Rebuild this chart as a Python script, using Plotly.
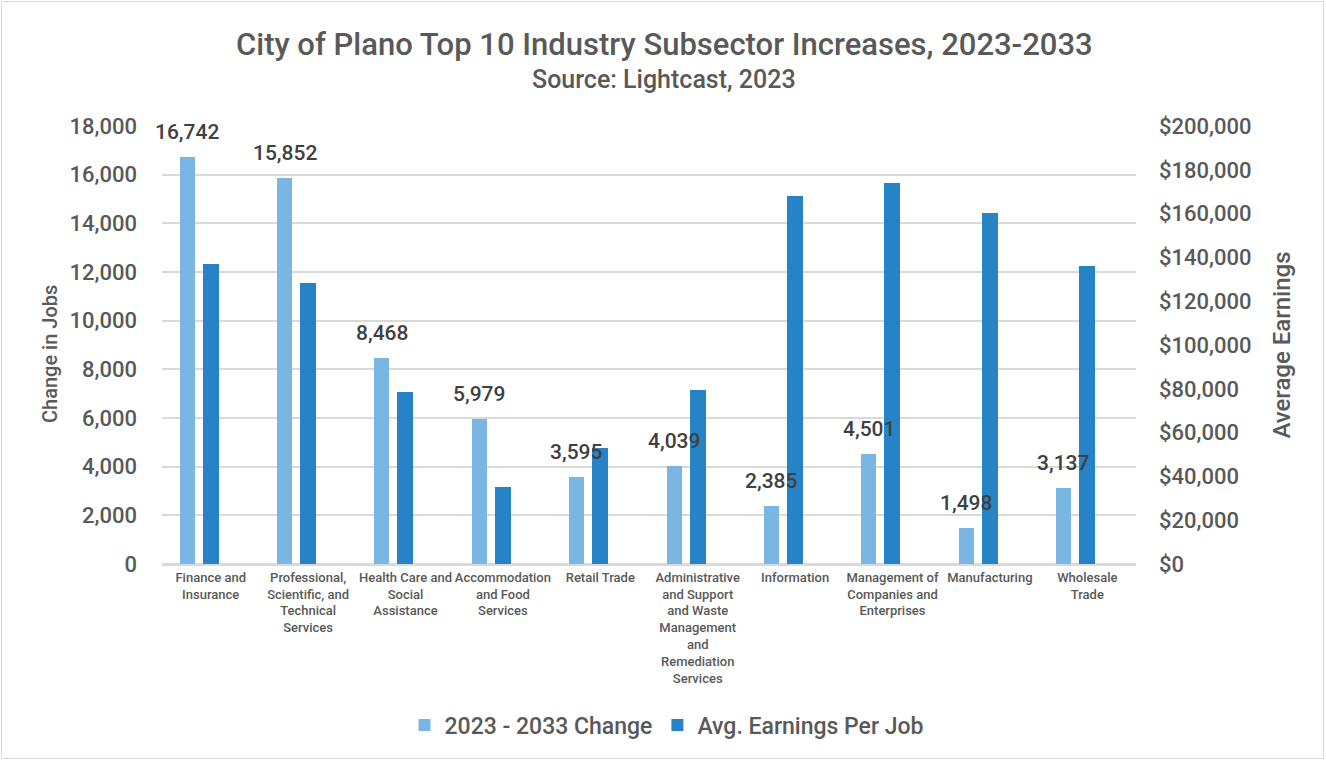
import plotly.graph_objects as go

# Industry subsectors (x categories) and their wrapped tick labels
categories = [
    "Finance and Insurance",
    "Professional, Scientific, and Technical Services",
    "Health Care and Social Assistance",
    "Accommodation and Food Services",
    "Retail Trade",
    "Administrative and Support and Waste Management and Remediation Services",
    "Information",
    "Management of Companies and Enterprises",
    "Manufacturing",
    "Wholesale Trade",
]
tick_labels = [
    "Finance and<br>Insurance",
    "Professional,<br>Scientific, and<br>Technical<br>Services",
    "Health Care and<br>Social<br>Assistance",
    "Accommodation<br>and Food<br>Services",
    "Retail Trade",
    "Administrative<br>and Support<br>and Waste<br>Management<br>and<br>Remediation<br>Services",
    "Information",
    "Management of<br>Companies and<br>Enterprises",
    "Manufacturing",
    "Wholesale<br>Trade",
]

# 2023 - 2033 change in jobs
job_change = [16742, 15852, 8468, 5979, 3595, 4039, 2385, 4501, 1498, 3137]
# Average earnings per job (USD)
avg_earnings = [137100, 128200, 78500, 35000, 53100, 79400, 167900, 173800, 160100, 135900]

LIGHT = "#7AB6E4"
DARK = "#2683C6"
TEXT = "#595959"
LABEL = "#404040"
GRID = "#D9D9D9"
FONT = "Roboto"
WT = 500

W, H = 1326, 761
ML, MR, MT, MB = 162, 190, 126, 197
PW, PH = W - ML - MR, H - MT - MB

fig = go.Figure()

# Earnings on the primary (right-side) axis
fig.add_trace(go.Bar(
    name="Avg. Earnings Per Job",
    x=categories, y=avg_earnings,
    width=0.165, offset=-0.083,
    marker=dict(color=DARK, line=dict(width=0)),
    yaxis="y",
))
# Job change on the left axis, overlaid
fig.add_trace(go.Bar(
    name="2023 - 2033 Change",
    x=categories, y=job_change,
    width=0.155, offset=-0.32,
    marker=dict(color=LIGHT, line=dict(width=0)),
    yaxis="y2",
))

# Value labels above the job-change bars
annotations = []
for cat, val in zip(categories, job_change):
    annotations.append(dict(
        x=cat, y=val, xref="x", yref="y2",
        text=f"{val:,}", showarrow=False,
        xanchor="center", yanchor="bottom",
        xshift=-23.5, yshift=11,
        font=dict(family=FONT, size=21, color=LABEL, weight=WT),
    ))

def py(px):
    return (MT + PH - px) / PH

def pxx(px):
    return (px - ML) / PW

annotations.append(dict(
    x=pxx(664), y=py(45), xref="paper", yref="paper",
    text="City of Plano Top 10 Industry Subsector Increases, 2023-2033",
    showarrow=False, xanchor="center", yanchor="middle",
    font=dict(family=FONT, size=31, color=TEXT, weight=WT),
))
annotations.append(dict(
    x=pxx(664), y=py(79), xref="paper", yref="paper",
    text="Source: Lightcast, 2023",
    showarrow=False, xanchor="center", yanchor="middle",
    font=dict(family=FONT, size=25, color=TEXT, weight=WT),
))
# Left axis title
annotations.append(dict(
    x=pxx(50), y=py(354), xref="paper", yref="paper",
    text="Change in Jobs", textangle=-90,
    showarrow=False, xanchor="center", yanchor="middle",
    font=dict(family=FONT, size=20, color=TEXT, weight=WT),
))

fig.update_layout(
    width=W, height=H,
    margin=dict(l=ML, r=MR, t=MT, b=MB, autoexpand=False),
    paper_bgcolor="white", plot_bgcolor="white",
    font=dict(family=FONT, color=TEXT),
    showlegend=True,
    legend=dict(
        orientation="h", x=pxx(667), y=py(725),
        xanchor="center", yanchor="middle",
        font=dict(family=FONT, size=23, color=TEXT, weight=WT),
        traceorder="reversed", itemwidth=30,
    ),
    bargap=0, barmode="overlay",
    xaxis=dict(
        type="category", range=[-0.5, 9.5],
        tickmode="array", tickvals=categories, ticktext=tick_labels,
        tickfont=dict(family=FONT, size=13, color=TEXT, weight=WT),
        tickangle=0, ticks="", showgrid=False,
        showline=True, linecolor=GRID, linewidth=2,
        automargin=False,
    ),
    yaxis=dict(
        side="right", range=[0, 200000], dtick=20000,
        tickprefix="$", tickformat=",",
        tickfont=dict(family=FONT, size=22, color=TEXT, weight=WT),
        showgrid=False, zeroline=False,
        ticks="", ticklabelstandoff=22,
        title=dict(text="Average Earnings", standoff=22,
                   font=dict(family=FONT, size=24, color=TEXT, weight=WT)),
        automargin=False,
    ),
    yaxis2=dict(
        overlaying="y", side="left", range=[0, 18000], dtick=2000,
        tickformat=",",
        tickfont=dict(family=FONT, size=22, color=TEXT, weight=WT),
        showgrid=True, gridcolor=GRID, gridwidth=2,
        zeroline=True, zerolinecolor=GRID, zerolinewidth=2,
        ticks="", ticklabelstandoff=24,
        automargin=False,
    ),
    annotations=annotations,
    shapes=[dict(
        type="rect", xref="paper", yref="paper",
        x0=pxx(1.5), x1=pxx(1323.5), y0=py(758.5), y1=py(1.5),
        line=dict(color=GRID, width=1), fillcolor="rgba(0,0,0,0)", layer="below",
    )],
)

fig.write_html("out.html")
